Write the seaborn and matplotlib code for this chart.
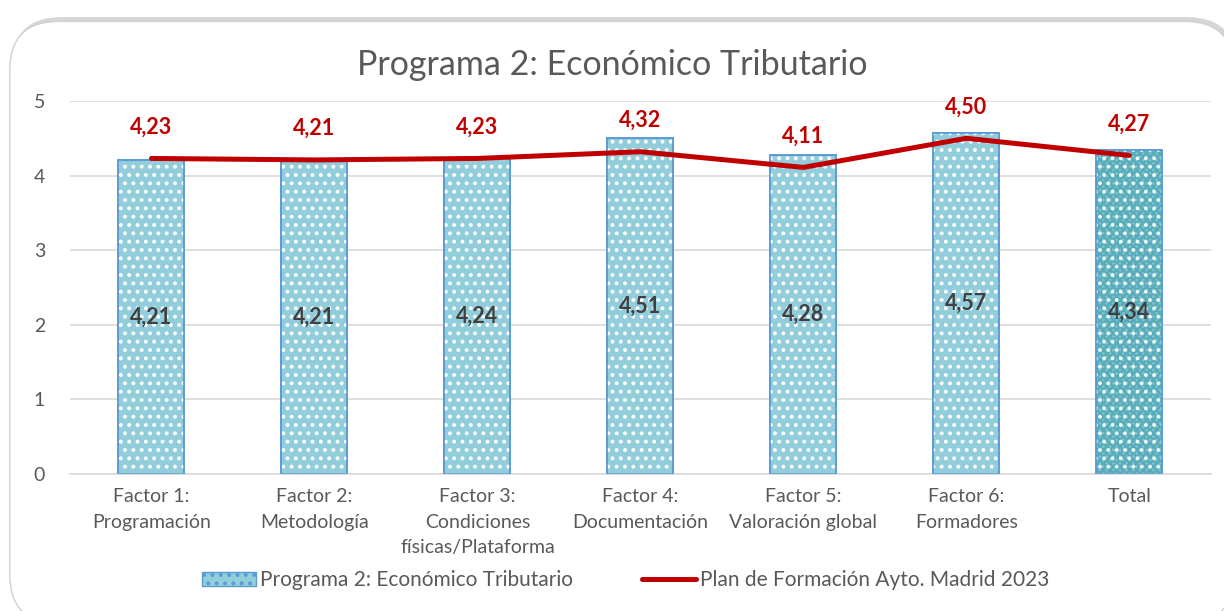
import matplotlib
matplotlib.use("Agg")
import matplotlib.pyplot as plt
import seaborn as sns
import pandas as pd
from matplotlib.patches import FancyBboxPatch, Patch
from matplotlib.lines import Line2D

categories = ["Factor 1:\nProgramación", "Factor 2:\nMetodología", "Factor 3:\nCondiciones\nfísicas/Plataforma",
              "Factor 4:\nDocumentación", "Factor 5:\nValoración global", "Factor 6:\nFormadores", "Total"]
programa_values = [4.21, 4.21, 4.24, 4.51, 4.28, 4.57, 4.34]
plan_values = [4.23, 4.21, 4.23, 4.32, 4.11, 4.50, 4.27]
y_ticks = [0, 1, 2, 3, 4, 5]
title = "Programa 2: Económico Tributario"
bar_series = "Programa 2: Económico Tributario"
line_series = "Plan de Formación Ayto. Madrid 2023"

sns.set_theme(style="white")
plt.rcParams['font.family'] = ['Lato', 'DejaVu Sans']
plt.rcParams['hatch.linewidth'] = 1.6

fig = plt.figure(figsize=(12.24, 6.11), dpi=100)
# card background with shadow
shadow = FancyBboxPatch((0.010, 0.0), 1.0, 0.972, boxstyle="round,pad=0,rounding_size=0.04",
                        transform=fig.transFigure, facecolor="#b5b5b5", edgecolor="none", alpha=0.55, zorder=-3,
                        mutation_aspect=2.0)
card = FancyBboxPatch((0.008, -0.02), 1.0, 0.985, boxstyle="round,pad=0,rounding_size=0.04",
                      transform=fig.transFigure, facecolor="white", edgecolor="#d0d0d0", lw=1.0, zorder=-2,
                      mutation_aspect=2.0)
fig.patches.extend([shadow, card])

ax = fig.add_axes([0.0572, 0.2242, 0.932, 0.6105])
ax.set_facecolor("none")

df = pd.DataFrame({"cat": categories, "val": programa_values})
light = "#92CDDC"
edge = "#5B9BD5"
sns.barplot(data=df, x="cat", y="val", ax=ax, color=light, width=0.405, saturation=1,
            edgecolor=edge, linewidth=1.2, zorder=2)
bars = list(ax.patches)
# last bar (Total) darker teal
bars[-1].set_facecolor("#7CC2CE")
for i, b in enumerate(bars):
    x0, w, h = b.get_x(), b.get_width(), b.get_height()
    if i == len(bars) - 1:
        ov2 = plt.Rectangle((x0, 0), w, h, fill=False, edgecolor="#3A9AAA", hatch="xxxxx", lw=0, zorder=2.5,
                            alpha=0.55)
        ax.add_patch(ov2)
        ov = plt.Rectangle((x0, 0), w, h, fill=False, edgecolor="white", hatch="..", lw=0, zorder=3, alpha=0.9)
    else:
        ov = plt.Rectangle((x0, 0), w, h, fill=False, edgecolor="white", hatch="..", lw=0, zorder=3)
    ax.add_patch(ov)
    border = plt.Rectangle((x0, 0), w, h, fill=False, edgecolor=edge, lw=1.2, zorder=4)
    ax.add_patch(border)

xs = list(range(len(categories)))
ax.plot(xs, plan_values, color="#C00000", lw=3.6, solid_capstyle="round", zorder=5)

for x, v in zip(xs, programa_values):
    ax.text(x, v / 2, f"{v:.2f}".replace(".", ","), ha="center", va="center", fontsize=15.5,
            fontweight="bold", color="#404040", zorder=6)
for x, v in zip(xs, plan_values):
    ax.text(x, v + 0.42, f"{v:.2f}".replace(".", ","), ha="center", va="center", fontsize=15.5,
            fontweight="bold", color="#C00000", zorder=6)

ax.set_ylim(0, 5)
ax.set_xlim(-0.5, len(categories) - 0.5)
ax.set_yticks(y_ticks)
ax.set_yticklabels([str(t) for t in y_ticks])
ax.set_xticks(xs)
ax.set_xticklabels(categories, linespacing=1.62)
ax.yaxis.grid(True, color="#D9D9D9", lw=1.2, zorder=0)
ax.set_axisbelow(True)
for s in ["top", "right", "left"]:
    ax.spines[s].set_visible(False)
ax.spines["bottom"].set_color("#D9D9D9")
ax.spines["bottom"].set_linewidth(1.2)
ax.tick_params(axis="both", length=0, labelsize=14, labelcolor="#595959")
ax.tick_params(axis="y", pad=18)
ax.tick_params(axis="x", pad=10)
ax.set_xlabel("")
ax.set_ylabel("")

fig.text(0.5, 0.893, title, ha="center", va="center", fontsize=24.5, color="#595959")

handles = [Patch(facecolor=light, edgecolor=edge, hatch="..", label=bar_series),
           Line2D([0], [0], color="#C00000", lw=3.6, label=line_series)]
leg = fig.legend(handles=handles, loc="center", bbox_to_anchor=(0.511, 0.05), ncol=2, frameon=False,
                 fontsize=15, labelcolor="#595959", handlelength=2.6, handletextpad=0.2, columnspacing=3.3)

fig.savefig("out.png", dpi=100)
